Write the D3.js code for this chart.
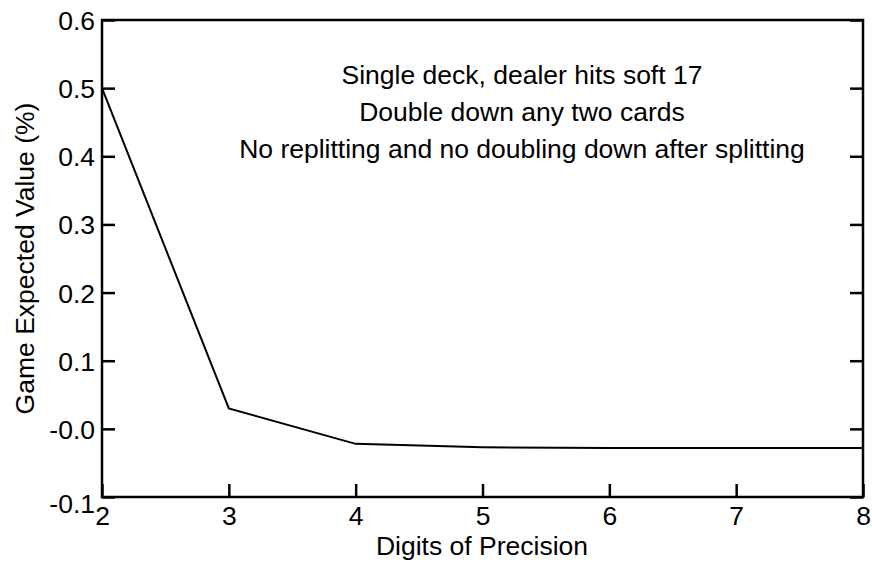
<!DOCTYPE html>
<html><head><meta charset="utf-8">
<script src="https://cdn.jsdelivr.net/npm/d3@7/dist/d3.min.js"></script>
<style>body{margin:0;background:#fff}svg{display:block}text{font-family:"Liberation Sans",Arial,Helvetica,sans-serif;fill:#000}</style>
</head><body>
<svg id="c" width="872" height="562"></svg>
<script>
const digits = [2, 3, 4, 5, 6, 7, 8];
const expectedValue = [0.5, 0.03, -0.022, -0.027, -0.028, -0.028, -0.028];
const yTicks = [-0.1, 0.0, 0.1, 0.2, 0.3, 0.4, 0.5, 0.6];
const yTickLabels = ["-0.1", "-0.0", "0.1", "0.2", "0.3", "0.4", "0.5", "0.6"];
const xTicks = [2, 3, 4, 5, 6, 7, 8];
const notes = ["Single deck, dealer hits soft 17", "Double down any two cards", "No replitting and no doubling down after splitting"];

const FS = 26.5;
const svg = d3.select("#c");
const L = 102, R = 863, T = 20, B = 497;
const x = d3.scaleLinear().domain([2, 8]).range([L, R]);
const y = d3.scaleLinear().domain([-0.1, 0.6]).range([B, T]);

// frame
svg.append("rect").attr("x", L).attr("y", T).attr("width", R - L).attr("height", B - T)
  .attr("fill", "none").attr("stroke", "#000").attr("stroke-width", 2.5);

// left axis
const gl = svg.append("g").attr("transform", `translate(${L},0)`)
  .call(d3.axisLeft(y).tickValues(yTicks).tickSizeInner(-13).tickSizeOuter(0).tickPadding(7)
    .tickFormat((d, i) => yTickLabels[i]));
gl.select(".domain").remove();
gl.selectAll(".tick line").attr("stroke-width", 2.5);
gl.selectAll(".tick text").attr("font-size", FS).attr("dy", (d) => d === -0.1 ? "0.58em" : "0.36em");
// right axis ticks
const gr = svg.append("g").attr("transform", `translate(${R},0)`)
  .call(d3.axisRight(y).tickValues(yTicks).tickSizeInner(-13).tickSizeOuter(0).tickFormat(""));
gr.select(".domain").remove();
gr.selectAll(".tick line").attr("stroke-width", 2.5);
// bottom axis
const gb = svg.append("g").attr("transform", `translate(0,${B})`)
  .call(d3.axisBottom(x).tickValues(xTicks).tickSizeInner(-13).tickSizeOuter(0).tickPadding(9)
    .tickFormat(d3.format("d")));
gb.select(".domain").remove();
gb.selectAll(".tick line").attr("stroke-width", 2.5);
gb.selectAll(".tick text").attr("font-size", FS);

// line
svg.append("path").datum(digits.map((d, i) => [d, expectedValue[i]]))
  .attr("fill", "none").attr("stroke", "#000").attr("stroke-width", 2)
  .attr("d", d3.line().x(d => x(d[0])).y(d => y(d[1])));

// labels
svg.append("text").attr("x", 482).attr("y", 555).attr("text-anchor", "middle")
  .attr("font-size", FS).text("Digits of Precision");
svg.append("text").attr("transform", `translate(34,${(T + B) / 2}) rotate(-90)`)
  .attr("text-anchor", "middle").attr("font-size", FS).text("Game Expected Value (%)");

svg.selectAll("text.note").data(notes).enter().append("text").attr("class", "note")
  .attr("x", 522).attr("y", (d, i) => 84 + i * 37).attr("text-anchor", "middle")
  .attr("font-size", FS).text(d => d);
</script>
</body></html>
